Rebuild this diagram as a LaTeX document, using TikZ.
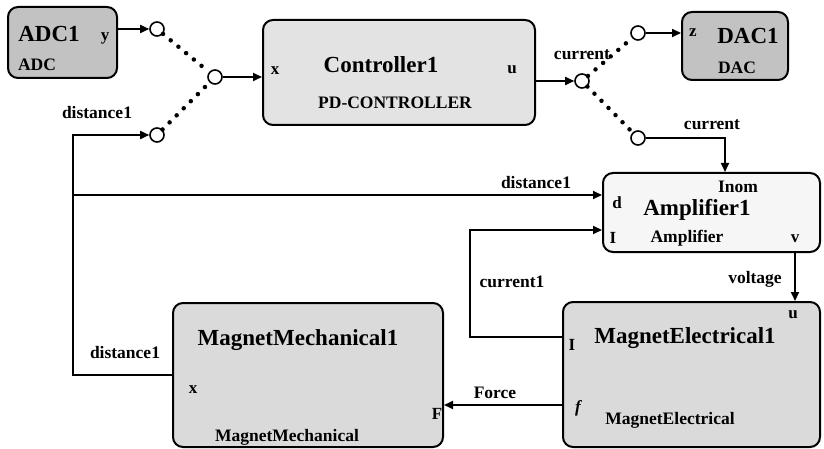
\documentclass[tikz,border=0pt]{standalone}
\usepackage{fontspec}
\setmainfont{Liberation Serif}
\usetikzlibrary{arrows.meta}
\begin{document}
\begin{tikzpicture}[x=1pt,y=-1pt,
  block/.style={draw=black, line width=2pt, rounded corners=10pt, inner sep=0pt},
  title/.style={inner sep=0pt, font=\fontsize{23}{23}\selectfont\bfseries},
  small/.style={inner sep=0pt, font=\fontsize{17.5}{18}\selectfont\bfseries},
  port/.style={inner sep=0pt, font=\fontsize{17}{18}\selectfont\bfseries},
  pin/.style={draw=black, circle, line width=1.6pt, minimum size=14pt, inner sep=0pt, fill=white},
  wire/.style={line width=1.7pt},
  flow/.style={wire, -{Triangle[length=9pt,width=8pt]}},
  swline/.style={line width=4.5pt, line cap=round, dash pattern=on 0pt off 10pt}
]
\definecolor{darkfill}{gray}{0.76}
\definecolor{ctrlfill}{gray}{0.89}
\definecolor{magfill}{gray}{0.855}
\definecolor{ampfill}{gray}{0.965}

\useasboundingbox (0,0) rectangle (824,449);

% blocks
\node[block, fill=darkfill, minimum width=109pt, minimum height=71pt] (ADC) at (62.5,42.5) {};
\node[block, fill=ctrlfill, minimum width=272pt, minimum height=105pt] (Ctrl) at (399,72.5) {};
\node[block, fill=darkfill, minimum width=106pt, minimum height=68pt] (DAC) at (735,46) {};
\node[block, fill=ampfill, minimum width=217pt, minimum height=79pt] (Amp) at (711.5,212.5) {};
\node[block, fill=magfill, minimum width=257pt, minimum height=145pt] (ME) at (691.5,374.5) {};
\node[block, fill=magfill, minimum width=270pt, minimum height=144pt] (MM) at (308,375) {};

% block texts
\node[title] (adcname) at (49,34) {ADC1};
\node[port] (adcy) at (105,38) {y};
\node[small] (adctype) at (37,65) {ADC};

\node[port] (ctrlx) at (275,71) {x};
\node[title] (ctrlname) at (381,65) {Controller1};
\node[port] (ctrlu) at (512,70) {u};
\node[small] (ctrltype) at (395,103) {PD-CONTROLLER};

\node[port] (dacz) at (693,33) {z};
\node[title] (dacname) at (748,36) {DAC1};
\node[small] (dactype) at (737,68) {DAC};

\node[small] (ampinom) at (738,186.5) {Inom};
\node[port] (ampd) at (617,203) {d};
\node[title] (ampname) at (697,210) {Amplifier1};
\node[port] (ampi) at (613,238) {I};
\node[small] (amptype) at (687,238) {Amplifier};
\node[port] (ampv) at (795,239) {v};

\node[port] (meu) at (793,315) {u};
\node[port] (mei) at (572,345) {I};
\node[title] (mename) at (685,338) {MagnetElectrical1};
\node[port] (mef) at (578,408) {\itshape f};
\node[small] (metype) at (670,420) {MagnetElectrical};

\node[title] (mmname) at (298,340) {MagnetMechanical1};
\node[port] (mmx) at (193,390) {x};
\node[port] (mmF) at (437,414) {F};
\node[small] (mmtype) at (287,437) {MagnetMechanical};

% switch pins
\node[pin] (in1) at (157,29) {};
\node[pin] (in2) at (157,135) {};
\node[pin] (swin) at (215,77) {};
\node[pin] (swout) at (582,81) {};
\node[pin] (out1) at (638,33) {};
\node[pin] (out2) at (638,138) {};

% switch contacts
\draw[swline] (in1) -- (swin);
\draw[swline] (in2) -- (swin);
\draw[swline] (swout) -- (out1);
\draw[swline] (swout) -- (out2);

% junction of the distance feedback
\coordinate (fb) at (73,195);

% connectors
\draw[flow] (ADC.east |- in1) -- (in1);
\draw[flow] (swin) -- (swin -| Ctrl.west);
\draw[flow] (Ctrl.east |- swout) -- (swout);
\draw[flow] (out1) -- (out1 -| DAC.west);
\draw[flow] (out2) -| ([xshift=13.5pt]Amp.north);
\draw[flow] (MM.west) -| (fb) |- (in2);
\draw[flow] (fb) -- (fb -| Amp.west);
\draw[flow] ([yshift=37.5pt]ME.west) -| (470,230) -- (470,230 -| Amp.west);
\draw[flow] ([xshift=83.5pt]Amp.south) -- ([xshift=103.5pt]ME.north);
\draw[flow] ([yshift=-30.5pt]ME.west) -- ([yshift=-30.5pt]ME.west -| MM.east);

% connector labels
\node[small] (lblcur1) at (582,55) {current};
\node[small] (lblcur2) at (712,125) {current};
\node[small] (lbldist1) at (97,113) {distance1};
\node[small] (lbldist2) at (536,183) {distance1};
\node[small] (lbldist3) at (125,353) {distance1};
\node[small] (lblcur3) at (512,282) {current1};
\node[small] (lblvolt) at (755,279) {voltage};
\node[small] (lblforce) at (495,393) {Force};
\end{tikzpicture}
\end{document}
